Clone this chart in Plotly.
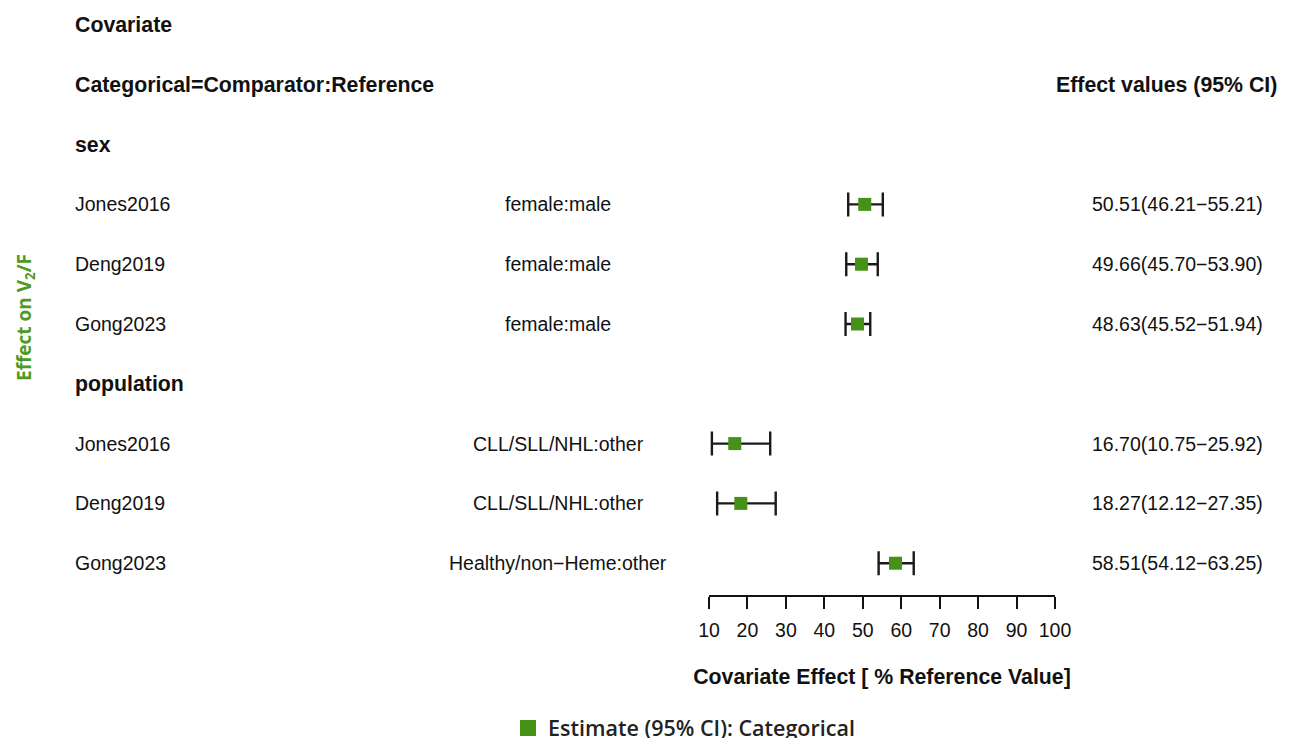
import plotly.graph_objects as go

# ---------------- data ----------------
covariates = ["sex", "population"]
studies = [["Jones2016", "Deng2019", "Gong2023"],
           ["Jones2016", "Deng2019", "Gong2023"]]
comparators = [["female:male", "female:male", "female:male"],
               ["CLL/SLL/NHL:other", "CLL/SLL/NHL:other", "Healthy/non\u2212Heme:other"]]
estimates = [[50.51, 49.66, 48.63], [16.70, 18.27, 58.51]]
lower = [[46.21, 45.70, 45.52], [10.75, 12.12, 54.12]]
upper = [[55.21, 53.90, 51.94], [25.92, 27.35, 63.25]]
tick_vals = [10, 20, 30, 40, 50, 60, 70, 80, 90, 100]

W, H = 1290, 738
OFF = 8            # page offset of the figure (body margin)
AXIS_Y = 595       # target px of the axis line in the screenshot
PLOT_BOTTOM = AXIS_Y - OFF
ROW0 = 25 - OFF
ROW_STEP = 59.8

FONT = "Liberation Sans, Arial, Helvetica, sans-serif"
FS = 19.5
FSB = 21.3
GREEN = "#469118"
TXT = "#111111"

fig = go.Figure()
annotations = []


def px(xp):
    return (xp - OFF) / W


def py(yp):
    return (PLOT_BOTTOM - (yp - OFF)) / PLOT_BOTTOM


def add_text(text, xpx, row, anchor="left", bold=False):
    annotations.append(dict(
        text=("<b>%s</b>" % text) if bold else text,
        x=px(xpx), xref="paper", y=row, yref="y",
        xanchor=anchor, yanchor="middle", showarrow=False,
        font=dict(family=FONT, size=FSB if bold else FS, color=TXT)))


LEFT_X = 73
MID_X = 558
RIGHT_X = 1177

add_text("Covariate", LEFT_X, 0, bold=True)
add_text("Categorical=Comparator:Reference", LEFT_X, 1, bold=True)
add_text("Effect values (95% CI)", 1166, 1, anchor="center", bold=True)

xs, ys, ep, em = [], [], [], []
row = 2
for g, cov in enumerate(covariates):
    add_text(cov, LEFT_X, row, bold=True)
    row += 1
    for i, st in enumerate(studies[g]):
        est, lo, hi = estimates[g][i], lower[g][i], upper[g][i]
        add_text(st, LEFT_X, row)
        add_text(comparators[g][i], MID_X, row, anchor="center")
        add_text("%.2f(%.2f\u2212%.2f)" % (est, lo, hi), RIGHT_X, row, anchor="center")
        xs.append(est)
        ys.append(row)
        ep.append(hi - est)
        em.append(est - lo)
        row += 1

fig.add_trace(go.Scatter(
    x=xs, y=ys, mode="markers", showlegend=False,
    marker=dict(symbol="square", size=13, color=GREEN),
    error_x=dict(type="data", symmetric=False, array=ep, arrayminus=em,
                 color="#1a1a1a", thickness=2.4, width=12),
    hoverinfo="x"))

# legend-only entry
fig.add_trace(go.Scatter(
    x=[None], y=[None], mode="markers", name="Estimate (95% CI): Categorical",
    marker=dict(symbol="square", size=17, color=GREEN)))

# y-axis title (green, rotated)
annotations.append(dict(
    text="<b>Effect on V<sub>2</sub>/F</b>", x=px(25), xref="paper",
    y=py(318), yref="paper",
    textangle=-90, showarrow=False, xanchor="center", yanchor="middle",
    font=dict(family="Open Sans, Noto Sans, sans-serif", size=19, color="#4f9a24")))

y_top = -ROW0 / ROW_STEP
y_bot = (PLOT_BOTTOM - ROW0) / ROW_STEP

fig.update_layout(
    width=W, height=H, autosize=False,
    margin=dict(l=0, r=0, t=0, b=H - PLOT_BOTTOM, autoexpand=False),
    paper_bgcolor="white", plot_bgcolor="white",
    xaxis=dict(domain=[px(709), px(1055)], range=[10, 100], automargin=False,
               tickvals=tick_vals, ticks="outside", ticklen=12, tickwidth=2,
               tickcolor="#111", showline=True, linecolor="#111", linewidth=2,
               showgrid=False, zeroline=False, ticklabelstandoff=5,
               tickfont=dict(family=FONT, size=19.5, color=TXT),
               title=dict(text="<b>Covariate Effect [ % Reference Value]</b>",
                          font=dict(family=FONT, size=FSB, color=TXT), standoff=29)),
    yaxis=dict(range=[y_bot, y_top], visible=False, fixedrange=True, automargin=False),
    annotations=annotations,
    showlegend=True,
    legend=dict(orientation="h", x=px(508), xanchor="left",
                y=py(728), yanchor="middle",
                font=dict(family="Open Sans, Noto Sans, sans-serif", size=21.5,
                          color="#222", weight=600),
                bgcolor="rgba(0,0,0,0)"),
)

fig.write_html("out.html")
